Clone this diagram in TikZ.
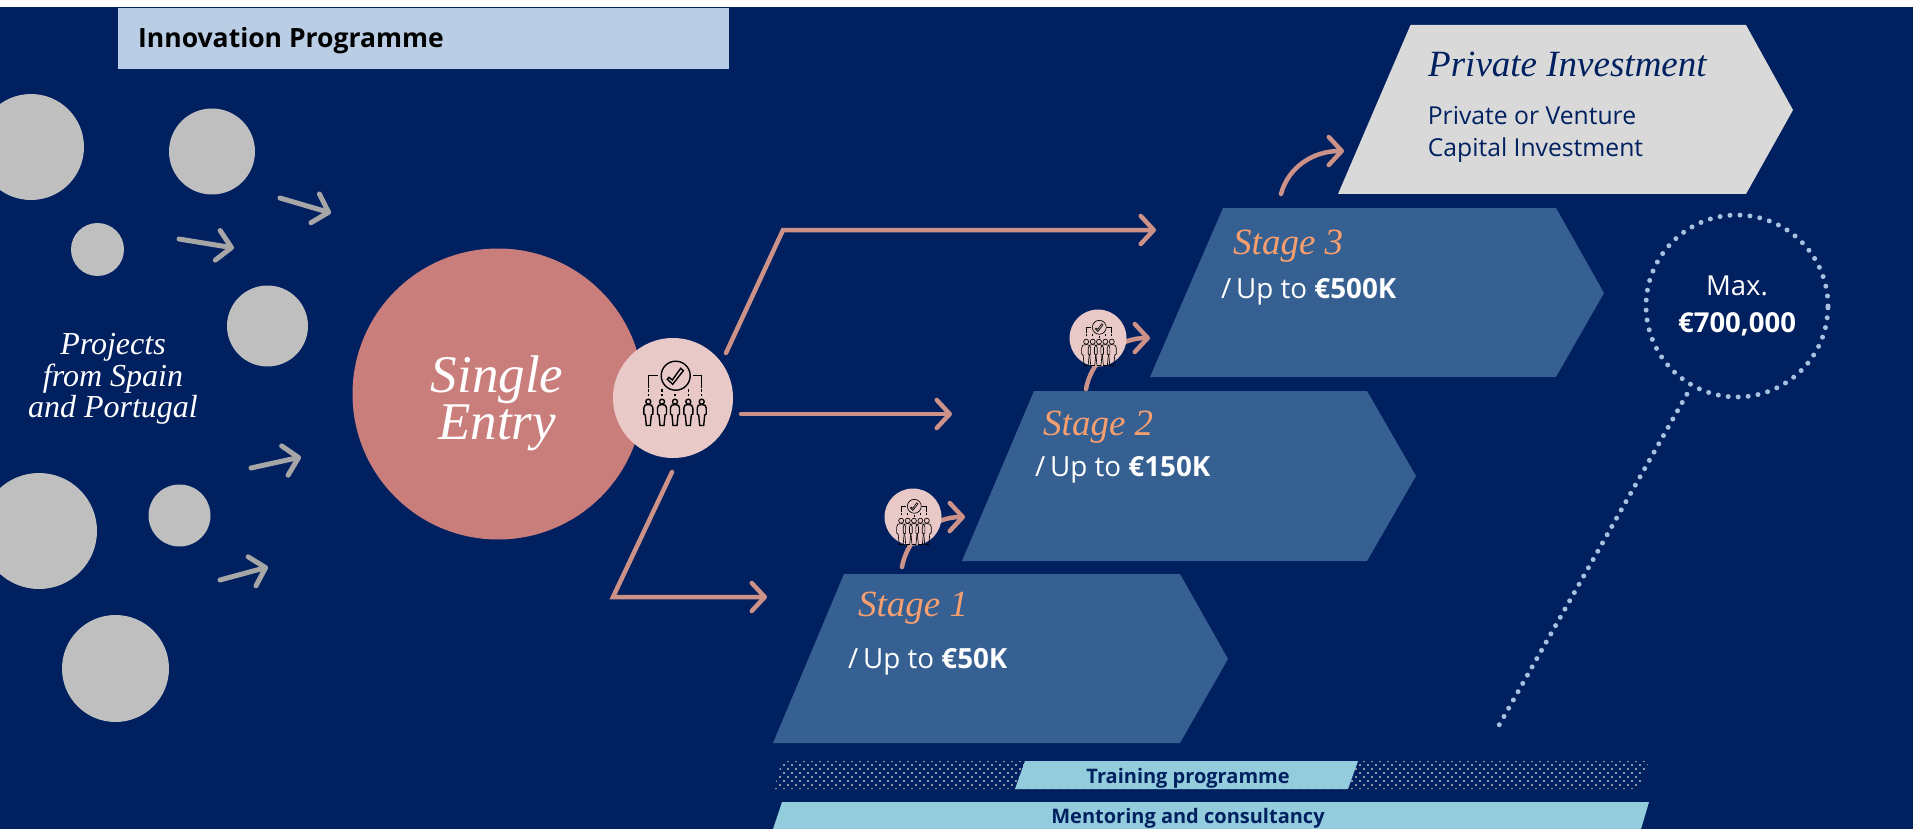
\documentclass[tikz,border=0pt]{standalone}
\usepackage{fontspec}
\setmainfont{Liberation Serif}
\newfontfamily\opensans{Open Sans}
\usetikzlibrary{arrows.meta,patterns}

\definecolor{navyback}{HTML}{002060}
\definecolor{headerblue}{HTML}{B9CDE5}
\definecolor{greyball}{HTML}{BFBFBF}
\definecolor{greyarrow}{HTML}{A6A6A6}
\definecolor{entrypink}{HTML}{CA7E7C}
\definecolor{gatepink}{HTML}{E9C9C7}
\definecolor{linkpink}{HTML}{CC9288}
\definecolor{stageblue}{HTML}{376092}
\definecolor{stagetext}{HTML}{F79F6F}
\definecolor{privategrey}{HTML}{D9D9D9}
\definecolor{barblue}{HTML}{93CDDD}
\definecolor{dotblue}{HTML}{A9C1E0}

\pgfdeclarepatternformonly{bardots}{\pgfqpoint{-2pt}{-2pt}}{\pgfqpoint{6pt}{6pt}}{\pgfqpoint{8pt}{8pt}}{
  \pgfpathcircle{\pgfqpoint{0pt}{0pt}}{1.15pt}
  \pgfpathcircle{\pgfqpoint{4pt}{4pt}}{1.15pt}
  \pgfusepath{fill}
}

\tikzset{
  ball/.style={circle,fill=greyball,inner sep=0pt},
  greylink/.style={line width=5pt,line cap=round,color=greyarrow,-{Straight Barb[length=14pt,width=30pt,round]}},
  pinklink/.style={line width=4.5pt,line cap=round,color=linkpink,-{Straight Barb[length=13pt,width=28pt,round]}},
  gate/.style={circle,fill=gatepink,inner sep=0pt},
  iconline/.style={line width=1.4pt},
  stagefont/.style={font=\fontsize{37pt}{37pt}\selectfont\itshape,anchor=base west,inner sep=0pt},
  upfont/.style={font=\opensans\fontsize{27.8pt}{27.8pt}\selectfont,text=white,anchor=base west,inner sep=0pt},
  person/.pic={
    \draw [iconline,black] (0,3.7) circle (2.5);
    \draw [iconline,black] (-4.5,10) .. controls (-4.5,7.5) and (-3,6.5) .. (0,6.5) .. controls (3,6.5) and (4.5,7.5) .. (4.5,10) -- (4.5,16) -- (3,17) -- (2,27.5) -- (-2,27.5) -- (-3,17) -- (-4.5,16) -- cycle;
  },
  gateicon/.pic={
    % check mark in its ring
    \draw [iconline,black] (2.7,-22.3) circle (14.5);
    \draw [iconline,black] (-5.7,-18.7) -- (-4,-20.7) -- (-0.7,-18) -- (7.7,-29.7) -- (10.3,-27.3) -- (-0.3,-13.7) -- cycle;
    % brackets
    \draw [iconline,black] (-24.7,-10) -- (-24.7,-22.3) -- (-15.3,-22.3);
    \draw [iconline,black] (28.7,-10) -- (28.7,-22.3) -- (19.7,-22.3);
    \draw [iconline,black,dash pattern=on 2.5 off 2] (-24.7,-9) -- (-24.7,-1);
    \draw [iconline,black,dash pattern=on 2.5 off 2] (-11,-8.7) -- (-11,-1);
    \draw [iconline,black,dash pattern=on 2.5 off 2] (2,-4.5) -- (2,-1);
    \draw [iconline,black,dash pattern=on 2.5 off 2] (15.3,-8.7) -- (15.3,-1);
    \draw [iconline,black,dash pattern=on 2.5 off 2] (28.7,-9) -- (28.7,-1);
    % five people
    \pic at (-24.7,0) {person};
    \pic at (-11,0) {person};
    \pic at (2,0) {person};
    \pic at (15.3,0) {person};
    \pic at (28.7,0) {person};
  }
}

\begin{document}
\begin{tikzpicture}[x=1pt,y=-1pt]
  \useasboundingbox (0,0) rectangle (1913,829);
  % background
  \fill [white] (0,0) rectangle (1913,829);
  \fill [navyback] (0,7) rectangle (1913,829);
  % header
  \fill [headerblue] (118,8) rectangle (729,69);
  \node [anchor=base west,inner sep=0pt,font=\opensans\bfseries\fontsize{26.5pt}{26.5pt}\selectfont,text=black] (header) at (138,48) {Innovation Programme};
  % project balls
  \node [ball,minimum size=106] (ball1) at (31,147) {};
  \node [ball,minimum size=86] (ball2) at (212,151.5) {};
  \node [ball,minimum size=53] (ball3) at (97.5,249.5) {};
  \node [ball,minimum size=81] (ball4) at (267.5,326) {};
  \node [ball,minimum size=116] (ball5) at (39,531) {};
  \node [ball,minimum size=62] (ball6) at (179.5,515.5) {};
  \node [ball,minimum size=107] (ball7) at (115.5,668.5) {};
  \node [align=center,font=\fontsize{32pt}{31.5pt}\selectfont\itshape,text=white,inner sep=0pt] (projects) at (113,379) {Projects\\from Spain\\and Portugal};
  % grey arrows
  \coordinate (grey1a) at (280,198);
  \coordinate (grey1b) at (331,213);
  \coordinate (grey2a) at (179,239);
  \coordinate (grey2b) at (234,248);
  \coordinate (grey3a) at (251,468);
  \coordinate (grey3b) at (301,457);
  \coordinate (grey4a) at (220,580);
  \coordinate (grey4b) at (268,567);
  \draw [greylink] (grey1a) -- (grey1b);
  \draw [greylink] (grey2a) -- (grey2b);
  \draw [greylink] (grey3a) -- (grey3b);
  \draw [greylink] (grey4a) -- (grey4b);
  % single entry
  \node [circle,fill=entrypink,inner sep=0pt,minimum size=291] (entry) at (498,394) {};
  \node [align=center,font=\fontsize{53pt}{44pt}\selectfont\itshape,text=white,inner sep=0pt] (entrytext) at (497,403) {Single\\Entry};
  \node [gate,minimum size=120] (gate0) at (673,398) {};
  \pic at (673,398) {gateicon};
  % links from the entry
  \coordinate (topstart) at (726,353);
  \coordinate (topbend) at (783,230);
  \coordinate (topend) at (1156,230);
  \coordinate (midstart) at (741,414);
  \coordinate (midend) at (952,414);
  \coordinate (lowstart) at (672,472);
  \coordinate (lowbend) at (613,597);
  \coordinate (lowend) at (767,597);
  \draw [pinklink] (topstart) -- (topbend) -- (topend);
  \draw [pinklink] (midstart) -- (midend);
  \draw [pinklink] (lowstart) -- (lowbend) -- (lowend);
  % private investment
  \fill [privategrey] (1410.5,25) -- (1746,25) -- (1793,110) -- (1746,194) -- (1338,194) -- cycle;
  \node [stagefont,text=navyback] (private) at (1428,77) {Private Investment};
  \node [align=left,font=\opensans\fontsize{24.7pt}{32pt}\selectfont,text=navyback,inner sep=0pt] (privatetext) at (1535.5,134) {Private or Venture\\Capital Investment};
  % stage 3
  \fill [stageblue] (1223,208) -- (1556,208) -- (1604,293) -- (1556,377) -- (1150,377) -- cycle;
  \node [stagefont,text=stagetext] (stage3) at (1233,254) {Stage 3};
  \node [upfont] (up3) at (1221,298) {/\,Up to \textbf{€500K}};
  % stage 2
  \fill [stageblue] (1034,391) -- (1367,391) -- (1416,476) -- (1367,561) -- (962,561) -- cycle;
  \node [stagefont,text=stagetext] (stage2) at (1043,435) {Stage 2};
  \node [upfont] (up2) at (1035,476) {/\,Up to \textbf{€150K}};
  % stage 1
  \fill [stageblue] (844,574) -- (1180,574) -- (1228,659) -- (1180,743) -- (773,743) -- cycle;
  \node [stagefont,text=stagetext] (stage1) at (858,616) {Stage 1};
  \node [upfont] (up1) at (848,668) {/\,Up to \textbf{€50K}};
  % gate between stage 1 and stage 2
  \coordinate (gate1a) at (902,567);
  \coordinate (gate1b) at (965,517);
  \draw [pinklink] (gate1a) .. controls (908,535) and (935,517) .. (gate1b);
  \node [gate,minimum size=57] (gate1) at (913,517) {};
  \pic [scale=0.48,iconline/.style={line width=0.65pt}] at (913,517) {gateicon};
  % gate between stage 2 and stage 3
  \coordinate (gate2a) at (1086,389);
  \coordinate (gate2b) at (1150,338);
  \draw [pinklink] (gate2a) .. controls (1092,357) and (1120,338) .. (gate2b);
  \node [gate,minimum size=57] (gate2) at (1098,338) {};
  \pic [scale=0.48,iconline/.style={line width=0.65pt}] at (1098,338) {gateicon};
  % from stage 3 to private investment
  \coordinate (privatea) at (1281,194);
  \coordinate (privateb) at (1344,151);
  \draw [pinklink] (privatea) .. controls (1288,168) and (1312,151) .. (privateb);
  % maximum
  \node [circle,draw=dotblue,line width=5pt,line cap=round,dash pattern=on 0pt off 10pt,inner sep=0pt,minimum size=182,align=center,font=\opensans\fontsize{27.5pt}{37pt}\selectfont,text=white] (maxball) at (1737,306) {Max.\\\textbf{€700,000}};
  \coordinate (maxfoot) at (1498,727);
  \draw [dotblue,line width=5pt,line cap=round,dash pattern=on 0pt off 9.5pt,shorten <=8pt] (maxball) -- (maxfoot);
  % training programme
  \fill [pattern=bardots,pattern color=greyball] (782,761) -- (1649,761) -- (1638,789) -- (774,789) -- cycle;
  \fill [barblue] (1025,761) -- (1358,761) -- (1348,789) -- (1015,789) -- cycle;
  \node [anchor=base,inner sep=0pt,font=\opensans\bfseries\fontsize{20pt}{20pt}\selectfont,text=navyback] (training) at (1188,783) {Training programme};
  % mentoring and consultancy
  \fill [barblue] (782,802) -- (1649,802) -- (1641,829) -- (773,829) -- cycle;
  \node [anchor=base,inner sep=0pt,font=\opensans\bfseries\fontsize{20pt}{20pt}\selectfont,text=navyback] (mentoring) at (1188,823) {Mentoring and consultancy};
\end{tikzpicture}
\end{document}
